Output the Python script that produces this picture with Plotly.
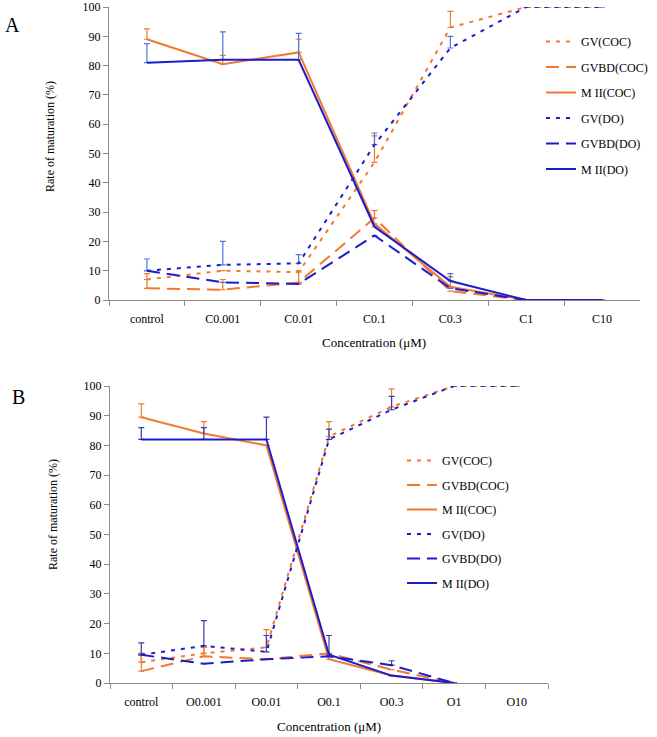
import plotly.graph_objects as go
from plotly.subplots import make_subplots

# categories
cats_a = ['control', 'C0.001', 'C0.01', 'C0.1', 'C0.3', 'C1', 'C10']
cats_b = ['control', 'O0.001', 'O0.01', 'O0.1', 'O0.3', 'O1', 'O10']

names = ['GV(COC)', 'GVBD(COC)', 'M II(COC)', 'GV(DO)', 'GVBD(DO)', 'M II(DO)']

# panel A values (%)
gv_coc_a = [7, 10, 9.5, 47, 93, 100, 100]
gvbd_coc_a = [4, 3.5, 6, 28, 3, 0, 0]
mii_coc_a = [89, 80.5, 84.5, 26, 4.5, 0, 0]
gv_do_a = [10, 12, 12.5, 53, 86, 100, 100]
gvbd_do_a = [10, 6, 5.5, 22, 4, 0, 0]
mii_do_a = [81, 82, 82, 25, 6.5, 0, 0]

# panel A upper error bars
err_gv_coc_a = [None, None, None, 9, 5.5, None, None]
err_gvbd_coc_a = [5, 3.5, 4, 2.5, None, None, None]
err_mii_coc_a = [3.5, 3, 4.5, None, 3.5, None, None]
err_gv_do_a = [4, 8, 3, 4, 4, None, None]
err_gvbd_do_a = [None, None, None, None, None, None, None]
err_mii_do_a = [6.5, 9.5, 9, None, 2.5, None, None]

# panel B values (%)
gv_coc_b = [7, 10, 12, 83, 93, 100, 100]
gvbd_coc_b = [4, 9, 8, 10, 4.5, 0, None]
mii_coc_b = [89.5, 84, 80, 8, 2.5, 0, None]
gv_do_b = [9.5, 12.5, 10.5, 82, 92, 100, 100]
gvbd_do_b = [9.5, 6.5, 8, 9, 6, 0, None]
mii_do_b = [82, 82, 82, 9.5, 2.5, 0, None]

# panel B upper error bars
err_gv_coc_b = [3, 2, 6, 5, 6, None, None]
err_gvbd_coc_b = [6, 3, None, None, None, None, None]
err_mii_coc_b = [4.5, 4, None, None, None, None, None]
err_gv_do_b = [4, 8.5, 5.5, 3.5, 4.5, None, None]
err_gvbd_do_b = [None, None, None, None, 1.5, None, None]
err_mii_do_b = [4, 4, 7.5, 6.5, None, None, None]

ORANGE = '#F07A30'
BLUE = '#1C1CCC'
styles = [
    (ORANGE, '4px,6px'), (ORANGE, '13px,7px'), (ORANGE, 'solid'),
    (BLUE, '4px,6px'), (BLUE, '13px,7px'), (BLUE, 'solid'),
]

panels = [
    (cats_a, [gv_coc_a, gvbd_coc_a, mii_coc_a, gv_do_a, gvbd_do_a, mii_do_a],
     [err_gv_coc_a, err_gvbd_coc_a, err_mii_coc_a, err_gv_do_a, err_gvbd_do_a, err_mii_do_a],
     'legend', '#4A78E0'),
    (cats_b, [gv_coc_b, gvbd_coc_b, mii_coc_b, gv_do_b, gvbd_do_b, mii_do_b],
     [err_gv_coc_b, err_gvbd_coc_b, err_mii_coc_b, err_gv_do_b, err_gvbd_do_b, err_mii_do_b],
     'legend2', '#3A3AA8'),
]

fig = make_subplots(rows=2, cols=1)
SERIF = 'Liberation Serif'

for row, (cats, series, errs, leg, errblue) in enumerate(panels, start=1):
    for i, (name, ys, es) in enumerate(zip(names, series, errs)):
        color, dash = styles[i]
        ecol = ORANGE if color == ORANGE else errblue
        fig.add_trace(go.Scatter(
            x=cats, y=ys, name=name, mode='lines',
            line=dict(color=color, width=2, dash=dash),
            error_y=dict(type='data', array=es, arrayminus=[0] * len(es), symmetric=False,
                         color=ecol, thickness=1.2, width=3),
            legend=leg, legendgroup=f'{leg}{i}',
        ), row=row, col=1)

axis_common = dict(showline=True, linecolor='#8C8C8C', linewidth=1, showgrid=False,
                   zeroline=False, ticks='outside', tickcolor='#8C8C8C', ticklen=5,
                   automargin=False,
                   tickfont=dict(family=SERIF, size=12, color='black'))

fig.update_xaxes(**axis_common, type='category', tickson='boundaries', range=[-0.5, 6.5],
                 ticklabelstandoff=8)
fig.update_yaxes(**axis_common, range=[0, 100], dtick=10)

fig.update_layout(
    width=657, height=737, margin=dict(l=0, r=0, t=0, b=0, autoexpand=False),
    paper_bgcolor='white', plot_bgcolor='white',
    xaxis=dict(domain=[109 / 657, 640 / 657]),
    yaxis=dict(domain=[1 - 300 / 737, 1 - 7 / 737]),
    xaxis2=dict(domain=[110 / 657, 548 / 657]),
    yaxis2=dict(domain=[1 - 683 / 737, 1 - 386 / 737]),
    legend=dict(x=541 / 657, y=1 - 27 / 737, xanchor='left', yanchor='top',
                font=dict(family=SERIF, size=12, color='black'), tracegroupgap=6.5,
                bgcolor='rgba(0,0,0,0)'),
    legend2=dict(x=402 / 657, y=1 - 446 / 737, xanchor='left', yanchor='top',
                 font=dict(family=SERIF, size=12, color='black'), tracegroupgap=5.5,
                 bgcolor='rgba(0,0,0,0)'),
    showlegend=True,
)

annots = [
    ('A', 12, 25, 0, 20), ('B', 18, 397, 0, 20),
    ('Concentration (μM)', 374, 342, 0, 13), ('Concentration (μM)', 329, 726, 0, 13),
    ('Rate of maturation (%)', 50, 137, -90, 12), ('Rate of maturation (%)', 53, 515, -90, 12),
]
for text, px_x, px_y, ang, size in annots:
    fig.add_annotation(text=text, x=px_x / 657, y=1 - px_y / 737, xref='paper', yref='paper',
                       showarrow=False, textangle=ang, xanchor='center', yanchor='middle',
                       font=dict(family=SERIF, size=size, color='black'))

fig.write_html('out.html', config={'displayModeBar': False},
               post_script="document.body.style.margin='0';document.body.style.overflow='hidden';")
